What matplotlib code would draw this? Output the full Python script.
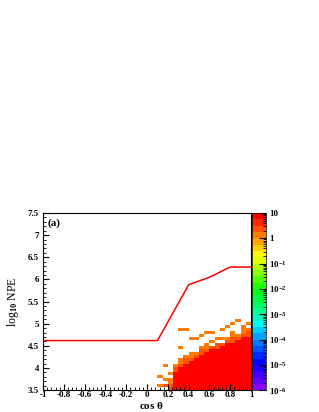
import numpy as np
import matplotlib
matplotlib.use('Agg')
import matplotlib.pyplot as plt
from matplotlib.colors import LinearSegmentedColormap, LogNorm

plt.rcParams['font.family'] = ['Liberation Serif', 'DejaVu Serif']
plt.rcParams['font.weight'] = 'bold'
plt.rcParams['mathtext.fontset'] = 'custom'
plt.rcParams['mathtext.rm'] = 'Liberation Serif:bold'
plt.rcParams['mathtext.it'] = 'Liberation Serif:bold'

# threshold curve
line_x = [-1.0, 0.1, 0.4, 0.6, 0.8, 1.0]
line_y = [4.62, 4.62, 5.88, 6.05, 6.28, 6.28]

# histogram columns (left edge of 0.05 wide bins) and number of filled rows (row height 4/60)
col_x = [0.10, 0.15, 0.20, 0.25, 0.30, 0.35, 0.40, 0.45, 0.50,
         0.55, 0.60, 0.65, 0.70, 0.75, 0.80, 0.85, 0.90, 0.95]
red_rows = [0, 0, 0, 6, 8, 9, 10, 11, 12, 13, 14, 14, 15, 16, 16, 17, 18, 18]
mid_rows = [0, 0, 2, 2, 1, 2, 1, 1, 2, 1, 1, 2, 1, 1, 2, 1, 1, 2]
orange_rows = [0, 0, 1, 1, 2, 1, 2, 1, 1, 2, 2, 2, 2, 1, 2, 2, 2, 1]

# isolated cells: (x left edge, row, value)
extra_cells = [(0.10, 1, 1.5), (0.10, 4, 1.5), (0.15, 8, 1.5), (0.15, 3, 1.5),
               (0.15, 1, 3.0), (0.20, 5, 1.5), (0.20, 3, 1.5),
               (0.30, 20, 1.5), (0.35, 20, 1.5), (0.30, 14, 1.5),
               (0.40, 17, 1.5), (0.45, 17, 1.5), (0.50, 18, 1.5),
               (0.55, 19, 1.5), (0.60, 19, 1.5), (0.70, 20, 1.5),
               (0.75, 21, 1.5), (0.80, 22, 1.5), (0.85, 23, 1.5),
               (0.90, 21, 1.5), (0.95, 22, 1.5)]
holes = [(0.45, 13), (0.60, 15), (0.65, 16), (0.75, 18), (0.85, 19), (0.70, 16)]

cbar_ticks = [1e-6, 1e-5, 1e-4, 1e-3, 1e-2, 1e-1, 1, 10]
cbar_labels = ['10$^{-6}$', '10$^{-5}$', '10$^{-4}$', '10$^{-3}$', '10$^{-2}$',
               '10$^{-1}$', '1', '10']

xedges = np.linspace(-1, 1, 41)
yedges = np.linspace(3.5, 7.5, 61)
Z = np.full((60, 40), np.nan)
for i, x0 in enumerate(col_x):
    c = int(round((x0 + 1) / 0.05))
    r = 0
    for k in range(red_rows[i]):
        Z[r, c] = 8.0
        r += 1
    for k in range(mid_rows[i]):
        Z[r, c] = 3.0
        r += 1
    for k in range(orange_rows[i]):
        Z[r, c] = 1.5
        r += 1
for x0, r, v in extra_cells:
    Z[r, int(round((x0 + 1) / 0.05))] = v
for x0, r in holes:
    Z[r, int(round((x0 + 1) / 0.05))] = np.nan
Z = np.ma.masked_invalid(Z)

cols = [(0.0, '#8a00ff'), (1/7, '#0000ff'), (2/7, '#0096ff'), (2.6/7, '#00ffff'),
        (3/7, '#00ffa0'), (4/7, '#00ff00'), (5/7, '#c8ff00'), (5.4/7, '#ffff00'),
        (6/7, '#ffa000'), (6.5/7, '#ff5000'), (1.0, '#ff0000')]
cmap = LinearSegmentedColormap.from_list('root', cols, N=28)

fig = plt.figure(figsize=(3.19, 4.12), dpi=100)
ax = fig.add_axes([0.135, 0.053, 0.652, 0.430])
cax = fig.add_axes([0.790, 0.053, 0.044, 0.430])

mesh = ax.pcolormesh(xedges, yedges, Z, cmap=cmap, norm=LogNorm(1e-6, 10))
ax.plot(line_x, line_y, color='red', lw=1.1)

ax.set_xlim(-1, 1)
ax.set_ylim(3.5, 7.5)
ax.set_xticks(np.arange(-1, 1.01, 0.2))
ax.set_xticklabels(['-1', '-0.8', '-0.6', '-0.4', '-0.2', '0', '0.2', '0.4', '0.6', '0.8', '1'])
ax.set_xticks(np.arange(-1, 1.01, 0.04), minor=True)
ax.set_yticks(np.arange(3.5, 7.51, 0.5))
ax.set_yticklabels(['3.5', '4', '4.5', '5', '5.5', '6', '6.5', '7', '7.5'])
ax.set_yticks(np.arange(3.5, 7.51, 0.1), minor=True)
ax.tick_params(which='both', direction='in', labelsize=6.5)
ax.tick_params(axis='y', pad=3)
ax.tick_params(axis='x', pad=0.8)
ax.tick_params(which='major', length=4)
ax.tick_params(which='minor', length=2)
fig.text(0.475, 0.002, r'cos $\theta$', fontsize=8, ha='center', va='bottom')
ax.set_ylabel('log$_{10}$ NPE', fontsize=8.5, labelpad=5)
ax.text(0.02, 0.97, '(a)', transform=ax.transAxes, fontsize=8, va='top', ha='left')

cb = fig.colorbar(mesh, cax=cax)
cb.set_ticks(cbar_ticks)
cb.set_ticklabels(cbar_labels)
cb.outline.set_linewidth(0.5)
cax.tick_params(which='both', direction='in', labelsize=6.5, pad=2)
cax.tick_params(which='major', length=5)
cax.tick_params(which='minor', length=2.5)

fig.savefig('out.png', dpi=100)
